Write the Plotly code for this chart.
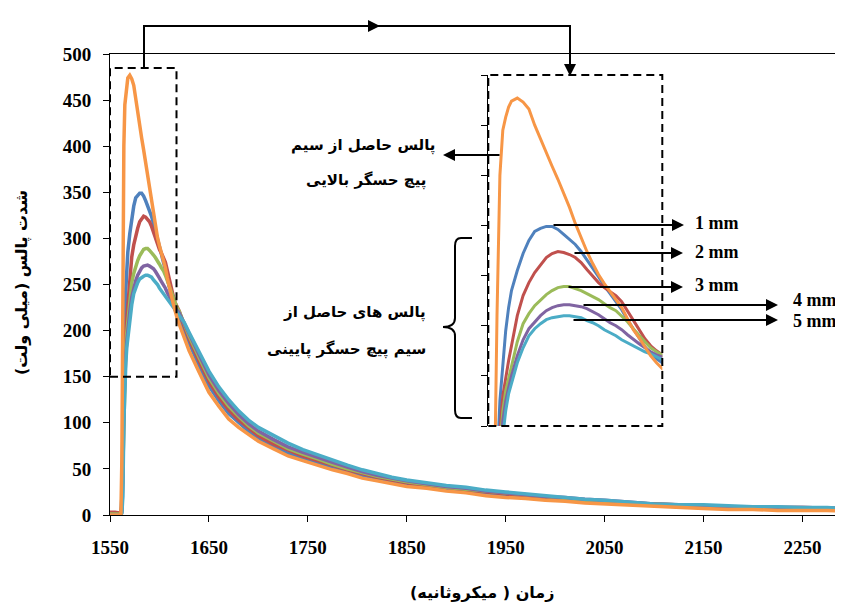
import plotly.graph_objects as go

# ---------------- data ----------------
time_us = [1550, 1555, 1561, 1562, 1563, 1564, 1565, 1566, 1567, 1568,
           1570, 1572, 1574, 1576, 1578, 1580, 1582, 1584, 1586, 1588,
           1590, 1592, 1594, 1596, 1598, 1600, 1602, 1604, 1606, 1608,
           1610, 1612, 1614, 1616, 1618, 1620, 1625, 1630,
           1640, 1650, 1660, 1670, 1680, 1690, 1700,
           1715, 1730, 1745, 1760, 1775, 1790, 1805, 1820, 1835, 1850,
           1870, 1890, 1910, 1930, 1950, 1970, 1990, 2010, 2030, 2050,
           2075, 2100, 2125, 2150, 2175, 2200, 2225, 2250, 2275, 2291]

upper_coil = [0, 0, 0, 60, 260, 400, 445, 458, 468, 474,
              477, 473, 466, 450, 436, 423, 409, 396, 382, 368,
              352, 338, 324, 312, 301, 292, 284, 277, 268, 257,
              246, 238, 229, 220, 213, 207, 192, 178,
              155, 133, 118, 104, 95, 87, 80,
              72, 64, 59, 54, 49, 45, 40, 37, 34, 31,
              29, 26, 24, 21, 19, 18, 16, 15, 13, 12,
              10, 9, 8, 7, 6, 6, 5, 5, 5, 4]

lower_1mm = [1, 1, 1, 20, 110, 175, 215, 245, 268, 285,
             305, 322, 335, 344, 347, 349, 349, 346, 341, 336,
             331, 324, 316, 308, 299, 290, 282, 275, 266, 256,
             247, 238, 229, 222, 217, 213, 199, 186,
             162, 140, 124, 110, 100, 91, 83,
             75, 67, 62, 57, 52, 48, 43, 40, 37, 34,
             31, 28, 26, 24, 22, 20, 18, 17, 15, 14,
             12, 11, 10, 9, 8, 8, 7, 7, 6, 6]

lower_2mm = [3, 3, 2, 10, 70, 145, 180, 200, 215, 230,
             260, 280, 293, 303, 311, 318, 322, 324, 323, 321,
             318, 313, 306, 299, 293, 288, 284, 280, 274, 265,
             255, 246, 237, 230, 225, 221, 205, 191,
             167, 145, 128, 114, 103, 94, 86,
             77, 70, 64, 59, 54, 49, 45, 41, 38, 35,
             32, 30, 27, 25, 23, 21, 19, 18, 16, 15,
             13, 12, 11, 10, 9, 9, 8, 8, 7, 7]

lower_3mm = [1, 1, 1, 5, 50, 130, 165, 185, 198, 210,
             234, 252, 262, 270, 276, 281, 285, 288, 289, 289,
             287, 285, 282, 279, 276, 272, 268, 265, 260, 254,
             247, 240, 234, 228, 224, 221, 207, 194,
             171, 149, 132, 118, 107, 97, 89,
             80, 72, 66, 61, 55, 50, 46, 42, 39, 36,
             33, 30, 28, 26, 24, 22, 20, 18, 16, 15,
             13, 12, 11, 10, 9, 8, 8, 7, 7, 6]

lower_4mm = [0, 0, 0, 3, 35, 120, 155, 175, 188, 200,
             220, 236, 247, 254, 260, 265, 268, 270, 271, 271,
             270, 269, 267, 264, 261, 257, 253, 250, 246, 241,
             236, 232, 228, 224, 221, 219, 208, 196,
             174, 152, 135, 121, 109, 99, 91,
             82, 74, 68, 62, 57, 52, 47, 43, 40, 37,
             34, 31, 29, 26, 24, 22, 20, 19, 17, 16,
             14, 12, 11, 10, 9, 9, 8, 8, 7, 7]

lower_5mm = [0, 0, 0, 2, 20, 100, 140, 165, 182, 193,
             213, 228, 240, 247, 252, 256, 258, 259, 260, 260,
             259, 258, 255, 253, 250, 246, 243, 240, 236, 233,
             230, 227, 224, 222, 219, 216, 209, 198,
             177, 156, 139, 125, 113, 103, 95,
             86, 78, 71, 65, 59, 54, 49, 45, 41, 38,
             35, 32, 30, 27, 25, 23, 21, 19, 17, 16,
             14, 12, 11, 11, 10, 9, 9, 8, 8, 7]

x_ticks = [1550, 1650, 1750, 1850, 1950, 2050, 2150, 2250]
y_ticks = [0, 50, 100, 150, 200, 250, 300, 350, 400, 450, 500]
inset_y_ticks = [150, 200, 250, 300, 350, 400, 450, 500]

series = [
    ("1 mm", lower_1mm, "#4F81BD"),
    ("2 mm", lower_2mm, "#C0504D"),
    ("3 mm", lower_3mm, "#9BBB59"),
    ("4 mm", lower_4mm, "#8064A2"),
    ("5 mm", lower_5mm, "#4BACC6"),
    ("upper", upper_coil, "#F79646"),
]

# ---------------- layout helpers (reference pixel -> paper) ----------------
# the page body has an 8px margin, so the figure is 8px smaller and every
# reference pixel position is shifted by that offset through the margins.
OFF = 8
W, H = 843 - OFF, 606 - OFF
L, R, T, B = 110, 843, 54, 515


def px(x):
    return (x - L) / (R - L)


def py(y):
    return (B - y) / (B - T)


fig = go.Figure()
for name, vals, col in series:
    fig.add_trace(go.Scatter(x=time_us, y=vals, mode="lines", name=name,
                             line=dict(color=col, width=3.5),
                             xaxis="x", yaxis="y", showlegend=False))
for name, vals, col in series:
    fig.add_trace(go.Scatter(x=time_us, y=vals, mode="lines", name=name,
                             line=dict(color=col, width=3),
                             xaxis="x2", yaxis="y2", showlegend=False))

num_font = dict(family="Liberation Serif", size=19, color="black", weight="bold")
fa_font = dict(family="DejaVu Sans", size=15, color="black", weight="bold")

shapes = []
dash = "8px,5px"
# main zoom box
shapes.append(dict(type="rect", xref="paper", yref="paper",
                   x0=px(110), x1=px(176.5), y0=py(376.7), y1=py(68),
                   line=dict(color="black", width=2, dash=dash)))
# inset box
shapes.append(dict(type="rect", xref="paper", yref="paper",
                   x0=px(488.3), x1=px(662.3), y0=py(426), y1=py(75),
                   line=dict(color="black", width=2, dash=dash)))
# connector from main box to inset
shapes.append(dict(type="path", xref="paper", yref="paper",
                   path=(f"M {px(144)},{py(68)} L {px(144)},{py(26)} "
                         f"L {px(570)},{py(26)} L {px(570)},{py(66)}"),
                   line=dict(color="black", width=2)))
# curly brace
bx, tipx = 455, 443
brace = (f"M {px(472)},{py(238)} L {px(461)},{py(238)} "
         f"Q {px(bx)},{py(238)} {px(bx)},{py(246)} "
         f"L {px(bx)},{py(318)} "
         f"Q {px(bx)},{py(327)} {px(tipx)},{py(327)} "
         f"Q {px(bx)},{py(327)} {px(bx)},{py(336)} "
         f"L {px(bx)},{py(410)} "
         f"Q {px(bx)},{py(418)} {px(461)},{py(418)} "
         f"L {px(472)},{py(418)}")
shapes.append(dict(type="path", xref="paper", yref="paper", path=brace,
                   line=dict(color="black", width=2)))

annotations = []


def arrow(tip, tail):
    annotations.append(dict(xref="paper", yref="paper", x=px(tip[0]), y=py(tip[1]),
                            ax=tail[0] - tip[0], ay=tail[1] - tip[1],
                            axref="pixel", ayref="pixel", text="",
                            showarrow=True, arrowhead=2, arrowsize=1.2,
                            arrowwidth=2, arrowcolor="black"))


arrow((380, 26), (360, 26))
arrow((570, 76), (570, 60))
arrow((443, 155), (501, 155))
arrow((684, 225), (552, 225))
arrow((683, 253), (573, 253))
arrow((683, 287), (567, 287))
arrow((778, 305), (582, 305))
arrow((778, 320), (572, 320))


def text(x, y, s, font, xanchor="center", angle=0):
    annotations.append(dict(xref="paper", yref="paper", x=px(x), y=py(y), text=s,
                            showarrow=False, font=font, xanchor=xanchor,
                            yanchor="middle", textangle=angle))


mm_font = dict(family="Liberation Serif", size=18, color="black", weight="bold")
text(693, 223, "1 mm", mm_font, "left")
text(693, 252, "2 mm", mm_font, "left")
text(693, 285, "3 mm", mm_font, "left")
text(791, 300, "4 mm", mm_font, "left")
text(791, 321, "5 mm", mm_font, "left")

text(438, 145, "پالس حاصل از سیم", fa_font, "right")
text(428, 180, "پیچ حسگر بالایی", fa_font, "right")
text(428, 312, "پالس های حاصل از", fa_font, "right")
text(428, 349, "سیم پیچ حسگر پایینی", fa_font, "right")

text(482, 592, "زمان ( میکروثانیه)", dict(family="DejaVu Sans", size=16,
                                          color="black", weight="bold"))
text(22, 283, "شدت پالس (میلی ولت)", dict(family="DejaVu Sans", size=16,
                                          color="black", weight="bold"),
     angle=-90)

fig.update_layout(
    width=W, height=H,
    margin=dict(l=L - OFF, r=0, t=T - OFF, b=(606 - OFF) - (B - OFF)),
    paper_bgcolor="white", plot_bgcolor="white",
    showlegend=False,
    xaxis=dict(domain=[0, 1], range=[1550, 2291], tickvals=x_ticks,
               showgrid=False, zeroline=False, showline=True, linecolor="black",
               linewidth=1, mirror=True, ticks="outside", ticklen=6,
               tickcolor="black", tickfont=num_font, ticklabelstandoff=9),
    yaxis=dict(domain=[0, 1], range=[0, 500], tickvals=y_ticks,
               showgrid=False, zeroline=False, showline=True, linecolor="black",
               linewidth=1, ticks="outside", ticklen=6, tickcolor="black",
               tickfont=num_font, ticklabelstandoff=8),
    xaxis2=dict(domain=[px(488.3), px(662.3)], range=[1560, 1620], anchor="y2",
                showgrid=False, zeroline=False, showline=False,
                showticklabels=False, ticks=""),
    yaxis2=dict(domain=[py(426), py(75)], range=[150, 500], anchor="x2",
                tickvals=inset_y_ticks, showgrid=False, zeroline=False,
                showline=True, linecolor="black", linewidth=1,
                ticks="outside", ticklen=6, tickcolor="black",
                showticklabels=False),
    shapes=shapes,
    annotations=annotations,
)

fig.write_html("out.html")
